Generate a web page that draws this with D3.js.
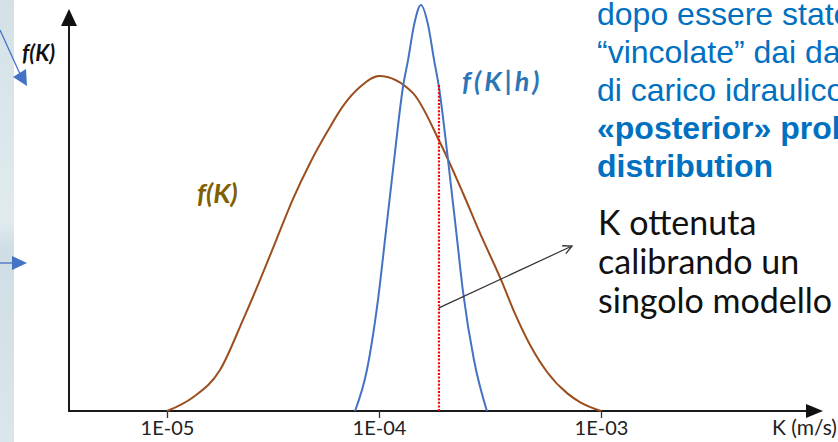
<!DOCTYPE html>
<html>
<head>
<meta charset="utf-8">
<script src="https://cdn.jsdelivr.net/npm/d3@7"></script>
<style>
  html, body { margin: 0; padding: 0; background: #fff; overflow: hidden; }
  svg { display: block; }
</style>
</head>
<body>
<div id="chart"></div>
<script>
// prior f(K): log10(K) and relative density
const priorLogK = [-5.0, -4.877, -4.75, -4.642, -4.561, -4.481, -4.406, -4.325, -4.245, -4.17, -4.09, -4.0,
  -3.847, -3.73, -3.622, -3.545, -3.45, -3.387, -3.32, -3.243, -3.153, -3.095, -3.0];
const priorF = [0, 0.034, 0.101, 0.224, 0.323, 0.426, 0.522, 0.611, 0.687, 0.751, 0.798, 0.825,
  0.783, 0.667, 0.537, 0.438, 0.323, 0.239, 0.163, 0.096, 0.044, 0.022, 0];

// posterior f(K|h)
const postLogK = [-4.113, -4.057, -4.005, -3.968, -3.932, -3.892, -3.869, -3.842, -3.811,
  -3.779, -3.752, -3.73, -3.689, -3.653, -3.622, -3.572, -3.514];
const postF = [0, 0.101, 0.273, 0.446, 0.618, 0.798, 0.865, 0.951, 1.0,
  0.951, 0.865, 0.798, 0.618, 0.446, 0.296, 0.125, 0];

// K from a single calibrated model (red dotted line)
const kCalLog = -3.73;
const kCalTop = 0.803;

const tickValues = [1e-5, 1e-4, 1e-3];
const tickLabels = ['1E-05', '1E-04', '1E-03'];

const blueLines = ['dopo essere state', '\u201cvincolate\u201d dai dati', 'di carico idraulico',
  '\u00abposterior\u00bb probability', 'distribution'];
const blueBold = [false, false, false, true, true];
const blackLines = ['K ottenuta', 'calibrando un', 'singolo modello'];

const width = 838;
const height = 442;
const axisY = 411;
const axisX = 69;

const svg = d3.select('#chart')
  .append('svg')
  .attr('width', width)
  .attr('height', height);

const defs = svg.append('defs');

const grad = defs.append('linearGradient')
  .attr('id', 'strip')
  .attr('x1', 0).attr('y1', 0).attr('x2', 0).attr('y2', 1);
grad.append('stop').attr('offset', '0%').attr('stop-color', '#d3e1e7');
grad.append('stop').attr('offset', '50%').attr('stop-color', '#e1ebee');
grad.append('stop').attr('offset', '56%').attr('stop-color', '#cfdee5');
grad.append('stop').attr('offset', '100%').attr('stop-color', '#dae6ea');

defs.append('marker')
  .attr('id', 'open-arrow')
  .attr('viewBox', '0 0 10 10')
  .attr('refX', 9)
  .attr('refY', 5)
  .attr('markerWidth', 11)
  .attr('markerHeight', 11)
  .attr('markerUnits', 'userSpaceOnUse')
  .attr('orient', 'auto')
  .append('path')
  .attr('d', 'M1,1 L9,5 L1,9')
  .attr('fill', 'none')
  .attr('stroke', '#333')
  .attr('stroke-width', 1.2);

// textured strip on the left edge
svg.append('rect')
  .attr('x', 0).attr('y', 0)
  .attr('width', 14).attr('height', height)
  .attr('fill', 'url(#strip)');

// blue arrows coming from the slide on the left
svg.append('line')
  .attr('x1', 0).attr('y1', 30).attr('x2', 20).attr('y2', 74)
  .attr('stroke', '#4472c4').attr('stroke-width', 1.3);
svg.append('path')
  .attr('d', 'M13,77 L26,69 L27,86 Z')
  .attr('fill', '#4472c4');
svg.append('line')
  .attr('x1', 0).attr('y1', 263).attr('x2', 14).attr('y2', 263)
  .attr('stroke', '#4472c4').attr('stroke-width', 1.3);
svg.append('path')
  .attr('d', 'M12,256 L27,263 L12,270 Z')
  .attr('fill', '#4472c4');

const x = d3.scaleLog()
  .domain([1e-5, 1e-4, 1e-3])
  .range([167, 379, 601]);

const y = d3.scaleLinear()
  .domain([0, 1])
  .range([axisY, 5]);

const line = d3.line()
  .x((d) => x(Math.pow(10, d[0])))
  .y((d) => y(d[1]))
  .curve(d3.curveMonotoneX);

// axes
svg.append('line')
  .attr('x1', axisX).attr('y1', axisY).attr('x2', 810).attr('y2', axisY)
  .attr('stroke', '#1a1a1a').attr('stroke-width', 2);
svg.append('path')
  .attr('d', `M806,${axisY - 7} L823,${axisY} L806,${axisY + 7} Z`)
  .attr('fill', '#111');
svg.append('line')
  .attr('x1', axisX).attr('y1', axisY + 1).attr('x2', axisX).attr('y2', 22)
  .attr('stroke', '#1a1a1a').attr('stroke-width', 2);
svg.append('path')
  .attr('d', `M${axisX - 8},26 L${axisX},9 L${axisX + 8},26 Z`)
  .attr('fill', '#111');

const xAxis = svg.append('g')
  .attr('transform', `translate(0,${axisY})`)
  .call(
    d3.axisBottom(x)
      .tickValues(tickValues)
      .tickFormat((d, i) => tickLabels[i])
      .tickSize(7)
      .tickPadding(3)
  );
xAxis.select('.domain').remove();
xAxis.selectAll('.tick line').attr('stroke', '#333').attr('stroke-width', 1.3);
xAxis.selectAll('.tick text')
  .attr('fill', '#222')
  .attr('font-family', 'Lato, sans-serif')
  .attr('font-size', 20);

svg.append('text')
  .attr('x', 772).attr('y', 435)
  .attr('font-family', 'Lato, sans-serif')
  .attr('font-size', 21)
  .attr('fill', '#222')
  .text('K (m/s)');

svg.append('text')
  .attr('x', 22).attr('y', 61)
  .attr('font-family', 'Lato, sans-serif')
  .attr('font-size', 22)
  .attr('font-weight', 'bold')
  .attr('font-style', 'italic')
  .attr('fill', '#111')
  .text('f(K)');

// curves
const priorData = priorLogK.map((k, i) => [k, priorF[i]]);
const postData = postLogK.map((k, i) => [k, postF[i]]);

svg.append('path')
  .datum(priorData)
  .attr('d', line)
  .attr('fill', 'none')
  .attr('stroke', '#9b4f1e')
  .attr('stroke-width', 2);

svg.append('path')
  .datum(postData)
  .attr('d', line)
  .attr('fill', 'none')
  .attr('stroke', '#4472c4')
  .attr('stroke-width', 2);

svg.append('line')
  .attr('x1', x(Math.pow(10, kCalLog))).attr('x2', x(Math.pow(10, kCalLog)))
  .attr('y1', y(kCalTop)).attr('y2', axisY)
  .attr('stroke', '#ff0000')
  .attr('stroke-width', 2.2)
  .attr('stroke-dasharray', '2 1.6');

// annotation arrow from the red line to the text
svg.append('line')
  .attr('x1', x(Math.pow(10, kCalLog))).attr('y1', y(0.254))
  .attr('x2', 572).attr('y2', 246)
  .attr('stroke', '#333')
  .attr('stroke-width', 1.2)
  .attr('marker-end', 'url(#open-arrow)');

// curve labels
svg.append('text')
  .attr('x', 197).attr('y', 203)
  .attr('font-family', 'Lato, sans-serif')
  .attr('font-size', 27)
  .attr('font-weight', 'bold')
  .attr('font-style', 'italic')
  .attr('fill', '#7f6000')
  .text('f(K)');

svg.append('text')
  .attr('x', 462).attr('y', 91)
  .attr('font-family', 'Lato, sans-serif')
  .attr('font-size', 27)
  .attr('font-weight', 'bold')
  .attr('font-style', 'italic')
  .attr('fill', '#2e75b6')
  .attr('letter-spacing', 3)
  .text('f(K|h)');

// side text
svg.append('g')
  .selectAll('text')
  .data(blueLines)
  .join('text')
  .attr('x', 597)
  .attr('y', (d, i) => 25 + i * 38)
  .attr('font-family', '"Liberation Sans", Arial, sans-serif')
  .attr('font-size', 32)
  .attr('font-weight', (d, i) => (blueBold[i] ? 'bold' : 'normal'))
  .attr('fill', '#0070c0')
  .text((d) => d);

svg.append('g')
  .selectAll('text')
  .data(blackLines)
  .join('text')
  .attr('x', 598)
  .attr('y', (d, i) => 235 + i * 39)
  .attr('font-family', 'Lato, sans-serif')
  .attr('font-size', 34)
  .attr('fill', '#111')
  .text((d) => d);
</script>
</body>
</html>
